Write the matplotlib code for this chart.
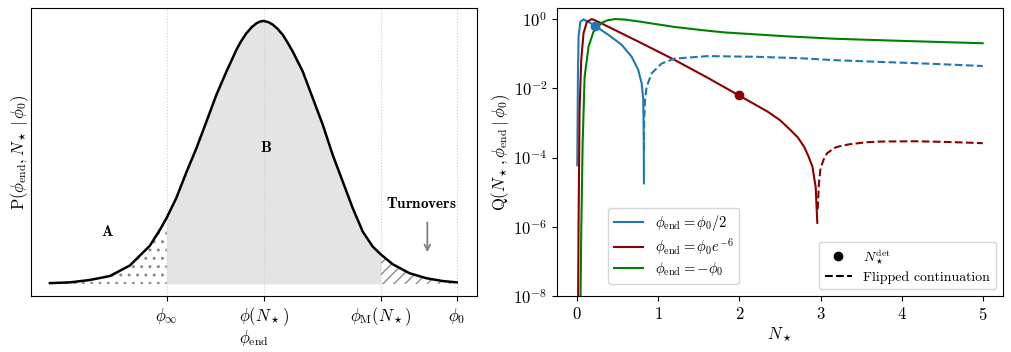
import numpy as np
import matplotlib
matplotlib.use("Agg")
import matplotlib.pyplot as plt

plt.rcParams["font.family"] = "serif"
plt.rcParams["font.serif"] = ["cmr10"]
plt.rcParams["mathtext.fontset"] = "cm"
plt.rcParams["axes.formatter.use_mathtext"] = True
plt.rcParams["axes.unicode_minus"] = False

# ---- left panel: schematic distribution P(phi_end, N* | phi0) ----
phi_end = [-2.14, -1.94, -1.74, -1.54, -1.34, -1.14, -1.04, -0.97, -0.873, -0.773,
           -0.673, -0.573, -0.473, -0.373, -0.273, -0.23, -0.173, -0.12, -0.073,
           -0.035, 0.0, 0.045, 0.093, 0.14, 0.193, 0.24, 0.293, 0.393, 0.493, 0.593,
           0.693, 0.793, 0.893, 0.993, 1.093, 1.175, 1.293, 1.46, 1.627, 1.793, 1.935]
prob = [0.003, 0.006, 0.015, 0.030, 0.070, 0.145, 0.205, 0.252, 0.328, 0.425,
        0.516, 0.617, 0.719, 0.807, 0.890, 0.920, 0.953, 0.976, 0.991,
        0.998, 1.0, 0.996, 0.986, 0.970, 0.947, 0.918, 0.883, 0.807, 0.706, 0.605,
        0.490, 0.389, 0.288, 0.199, 0.142, 0.112, 0.075, 0.041, 0.022, 0.011, 0.006]
tick_pos = [-0.97, 0.0, 1.175, 1.935]
tick_lab = [r"$\phi_\infty$", r"$\phi(N_\star)$", r"$\phi_{\rm M}(N_\star)$", r"$\phi_0$"]

# ---- right panel: Q(N*, phi_end | phi0) ----
n_blue = [0.0, 0.008, 0.016, 0.037, 0.077, 0.139, 0.221, 0.384, 0.548, 0.671,
          0.752, 0.794, 0.814, 0.82, 0.822]
q_blue = [6.0e-5, 2.1e-2, 0.31, 0.83, 0.98, 0.83, 0.63, 0.35, 0.18, 0.081,
          0.034, 1.38e-2, 4.6e-3, 3.2e-4, 1.8e-5]
n_blue_flip = [0.8225, 0.825, 0.835, 0.855, 0.917, 1.04, 1.20, 1.61, 2.22, 2.74,
               3.17, 3.55, 4.37, 5.0]
q_blue_flip = [1.6e-4, 1.3e-3, 4.5e-3, 1.1e-2, 2.7e-2, 5.2e-2, 7.2e-2, 8.5e-2,
               8.1e-2, 7.4e-2, 6.5e-2, 6.0e-2, 5.1e-2, 4.4e-2]

n_red = [0.008, 0.016, 0.028, 0.049, 0.077, 0.119, 0.18, 0.26, 0.794, 1.20, 1.61,
         1.99, 2.35, 2.5, 2.63, 2.72, 2.80, 2.85, 2.90, 2.94, 2.96]
q_red = [1e-9, 1.3e-6, 2.3e-3, 0.066, 0.39, 0.83, 1.0, 0.83, 0.20, 0.066, 0.020,
         6.3e-3, 2.1e-3, 1.2e-3, 6.2e-4, 3.8e-4, 2.0e-4, 1.1e-4, 5.4e-5, 1.4e-5,
         1.3e-6]
n_red_flip = [2.965, 2.98, 3.00, 3.04, 3.08, 3.17, 3.23, 3.35, 3.55, 3.76, 4.17,
              4.6, 5.0]
q_red_flip = [3.2e-6, 1.8e-5, 5e-5, 8.9e-5, 1.32e-4, 1.9e-4, 2.1e-4, 2.4e-4,
              2.75e-4, 2.9e-4, 2.95e-4, 2.8e-4, 2.6e-4]

n_green = [0.036, 0.049, 0.066, 0.090, 0.139, 0.20, 0.30, 0.38, 0.47, 0.6, 0.79,
           0.96, 1.20, 1.57, 1.82, 2.55, 3.17, 4.0, 5.0]
q_green = [1e-9, 7.9e-7, 2.5e-4, 0.021, 0.16, 0.43, 0.78, 0.93, 1.0, 0.96, 0.83,
           0.72, 0.59, 0.47, 0.41, 0.32, 0.27, 0.234, 0.20]

n_det = [0.221, 2.0]
q_det = [0.63, 6.3e-3]

fig = plt.figure(figsize=(10.12, 3.52), dpi=100)
ax1 = fig.add_axes([0.0306, 0.159, 0.4407, 0.818])
ax2 = fig.add_axes([0.5504, 0.159, 0.4407, 0.818])

x = np.array(phi_end)
y = np.array(prob)
i_inf = phi_end.index(tick_pos[0])
i_m = phi_end.index(tick_pos[2])
ax1.fill_between(x[i_inf:i_m + 1], 0, y[i_inf:i_m + 1], color="#e4e4e4", lw=0)
ax1.fill_between(x[:i_inf + 1], 0, y[:i_inf + 1], facecolor="none",
                 edgecolor="0.55", hatch="..", lw=0)
ax1.fill_between(x[i_m:], 0, y[i_m:], facecolor="none", edgecolor="0.55",
                 hatch="///", lw=0)
ax1.plot(x, y, color="black", lw=1.8)
ax1.set_xlim(-2.33, 2.137)
ax1.set_ylim(-0.046, 1.049)
ax1.set_xticks(tick_pos)
ax1.set_xticklabels(tick_lab, fontsize=12)
ax1.set_yticks([])
ax1.grid(axis="x", ls=":", color="0.8", lw=0.8)
ax1.set_xlabel(r"$\phi_{\rm end}$", fontsize=12, labelpad=0)
ax1.set_ylabel(r"$\mathrm{P}(\phi_{\rm end}, N_\star \mid \phi_0)$", fontsize=12, labelpad=0)
ax1.text(-1.56, 0.198, r"$\mathbf{A}$", ha="center", va="center", fontsize=11)
ax1.text(0.02, 0.517, r"$\mathbf{B}$", ha="center", va="center", fontsize=11)
ax1.text(1.58, 0.304, r"$\mathbf{Turnovers}$", ha="center", va="center", fontsize=11)
ax1.annotate("", xy=(1.64, 0.11), xytext=(1.64, 0.245),
             arrowprops=dict(arrowstyle="->", color="0.5", lw=1.3))

ax2.plot(n_blue, q_blue, color="tab:blue", lw=1.5, label=r"$\phi_{\rm end} = \phi_0/2$")
ax2.plot(n_red, q_red, color="darkred", lw=1.5, label=r"$\phi_{\rm end} = \phi_0 e^{-6}$")
ax2.plot(n_green, q_green, color="green", lw=1.5, label=r"$\phi_{\rm end} = -\phi_0$")
ax2.plot(n_blue_flip, q_blue_flip, color="tab:blue", lw=1.5, ls="--")
ax2.plot(n_red_flip, q_red_flip, color="darkred", lw=1.5, ls="--")
ax2.plot(n_det[0], q_det[0], "o", color="tab:blue", ms=6)
ax2.plot(n_det[1], q_det[1], "o", color="darkred", ms=6)
ax2.set_yscale("log")
ax2.set_xlim(-0.25, 5.25)
ax2.set_ylim(1e-8, 2.07)
ax2.set_yticks([1e0, 1e-2, 1e-4, 1e-6, 1e-8])
ax2.minorticks_off()
ax2.tick_params(labelsize=12)
ax2.set_xlabel(r"$N_\star$", fontsize=12, labelpad=2)
ax2.set_ylabel(r"$\mathrm{Q}(N_\star, \phi_{\rm end} \mid \phi_0)$", fontsize=12, labelpad=1)

leg1 = ax2.legend(loc="lower left", bbox_to_anchor=(0.114, 0.042), fontsize=10.5,
                  borderaxespad=0, labelspacing=0.2)
ax2.add_artist(leg1)
h1, = ax2.plot([], [], "o", color="black", ms=6)
h2, = ax2.plot([], [], color="black", ls="--", lw=1.5)
ax2.legend([h1, h2], [r"$N_\star^{\rm det}$", "Flipped continuation"],
           loc="lower right", bbox_to_anchor=(0.984, 0.024), fontsize=10,
           borderaxespad=0, labelspacing=0.3)

fig.savefig("out.png", dpi=100)
